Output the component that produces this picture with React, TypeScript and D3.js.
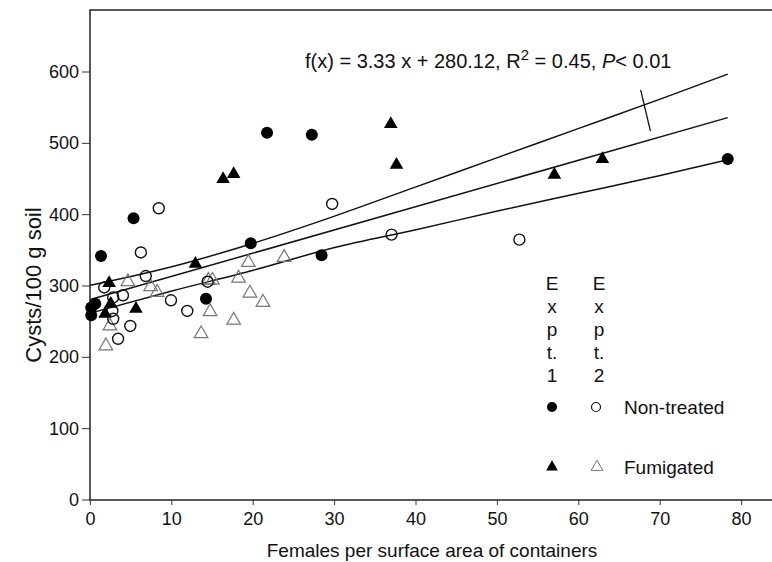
import React from 'react'
import * as d3 from 'd3'

// Expt. 1, non-treated (filled circles) [females, cysts]
const exp1NonTreated: [number, number][] = [
  [1.3, 342], [0.6, 275], [0.1, 270], [0.1, 259], [5.3, 395], [19.7, 360],
  [14.2, 282], [21.7, 515], [27.2, 512], [28.4, 343], [78.3, 478],
]
// Expt. 2, non-treated (open circles)
const exp2NonTreated: [number, number][] = [
  [6.2, 347], [1.7, 298], [6.8, 314], [9.9, 280], [11.9, 265], [14.4, 306],
  [2.8, 284], [4.0, 287], [2.7, 265], [2.8, 254], [4.9, 244], [3.4, 226],
  [8.4, 409], [29.7, 415], [37.0, 372], [52.7, 365],
]
// Expt. 1, fumigated (filled triangles)
const exp1Fumigated: [number, number][] = [
  [2.3, 304], [2.5, 275], [1.8, 261], [5.6, 268], [12.9, 331], [16.3, 450],
  [17.6, 457], [36.9, 527], [37.6, 470], [57.0, 456], [62.9, 478],
]
// Expt. 2, fumigated (open triangles)
const exp2Fumigated: [number, number][] = [
  [4.6, 306], [7.4, 299], [8.2, 291], [14.5, 308], [14.7, 264], [13.6, 233],
  [2.4, 244], [1.9, 216], [19.4, 333], [23.8, 340], [15.0, 308], [18.2, 311],
  [19.6, 290], [21.2, 277], [17.6, 252],
]

// fitted line and its band
const bandX = [0, 10, 20, 30, 40, 50, 60, 70, 78.3]
const bandUpper = [301, 327, 360, 398, 439, 480, 521, 562, 597]
const bandLower = [262, 293, 322, 354, 379, 405, 430, 455, 477]
const fitX = [0, 78.3]
const fitY = [281, 536]

const xTicks = [0, 10, 20, 30, 40, 50, 60, 70, 80]
const yTicks = [0, 100, 200, 300, 400, 500, 600]

// leader from the equation to the lines, in data units
const leader: [number, number][] = [[67.6, 575], [68.8, 517]]

const FONT = '"Liberation Sans", Arial, Helvetica, sans-serif'
const W = 772
const H = 562

export default function App() {
  const x = d3.scaleLinear().domain([0, 80]).range([90.4, 741.6])
  const y = d3.scaleLinear().domain([0, 600]).range([500, 72])

  const line = d3.line<[number, number]>()
    .x(d => x(d[0]))
    .y(d => y(d[1]))
  const curve = d3.line<[number, number]>()
    .x(d => x(d[0]))
    .y(d => y(d[1]))
    .curve(d3.curveMonotoneX)

  const tri = (size: number) => d3.symbol().type(d3.symbolTriangle).size(size)()
  const triBig = tri(80)
  const triSmall = tri(60)

  const left = 90
  const bottom = 500
  const top = 10
  const ink = '#111'

  return (
    <svg width={W} height={H} style={{ position: 'absolute', left: 0, top: 0, background: '#fff' }}
      fontFamily={FONT}>
      {/* frame */}
      <path d={`M${W},${top}H${left}V${bottom}H${W}`} fill="none" stroke="#222" strokeWidth={1.5} />

      {/* y axis */}
      {yTicks.map(t => (
        <g key={'y' + t}>
          <line x1={left - 8} x2={left} y1={y(t)} y2={y(t)} stroke="#333" strokeWidth={1} />
          <text x={left - 11} y={y(t)} textAnchor="end" dominantBaseline="central" fontSize={18} fill={ink}>{t}</text>
        </g>
      ))}
      {/* x axis */}
      {xTicks.map(t => (
        <g key={'x' + t}>
          <line x1={x(t)} x2={x(t)} y1={bottom} y2={bottom + 5} stroke="#333" strokeWidth={1} />
          <text x={x(t)} y={bottom + 19} textAnchor="middle" dominantBaseline="central" fontSize={18} fill={ink}>{t}</text>
        </g>
      ))}
      <text x={432} y={550} textAnchor="middle" dominantBaseline="central" fontSize={19} fill={ink}>
        Females per surface area of containers
      </text>
      <text transform={`translate(33,${285}) rotate(-90)`} textAnchor="middle" dominantBaseline="central" fontSize={22} fill={ink}>
        Cysts/100 g soil
      </text>

      {/* regression line and band */}
      <path d={curve(bandX.map((v, i) => [v, bandUpper[i]]) as [number, number][]) || ''} fill="none" stroke={ink} strokeWidth={1.5} />
      <path d={curve(bandX.map((v, i) => [v, bandLower[i]]) as [number, number][]) || ''} fill="none" stroke={ink} strokeWidth={1.5} />
      <path d={line(fitX.map((v, i) => [v, fitY[i]]) as [number, number][]) || ''} fill="none" stroke={ink} strokeWidth={1.5} />
      <path d={line(leader) || ''} fill="none" stroke={ink} strokeWidth={1.3} />

      {/* points */}
      {exp2Fumigated.map((d, i) => (
        <path key={'e2f' + i} d={triBig || ''} transform={`translate(${x(d[0])},${y(d[1])})`}
          fill="none" stroke="#777" strokeWidth={1.2} />
      ))}
      {exp2NonTreated.map((d, i) => (
        <circle key={'e2n' + i} cx={x(d[0])} cy={y(d[1])} r={5.5} fill="none" stroke={ink} strokeWidth={1.4} />
      ))}
      {exp1Fumigated.map((d, i) => (
        <path key={'e1f' + i} d={triBig || ''} transform={`translate(${x(d[0])},${y(d[1])})`} fill="#000" />
      ))}
      {exp1NonTreated.map((d, i) => (
        <circle key={'e1n' + i} cx={x(d[0])} cy={y(d[1])} r={6} fill="#000" />
      ))}

      {/* equation */}
      <text x={305} y={68} fontSize={20} fill={ink} xmlSpace="preserve">
        f(x) = 3.33 x + 280.12, R<tspan dy={-8} fontSize={15}>2</tspan><tspan dy={8}> = 0.45, </tspan>
        <tspan fontStyle="italic">P</tspan>{'< 0.01'}
      </text>

      {/* legend */}
      {['E', 'x', 'p', 't.', '1'].map((c, i) => (
        <text key={'l1' + i} x={552} y={283 + i * 23} textAnchor="middle" dominantBaseline="central" fontSize={19} fill={ink}>{c}</text>
      ))}
      {['E', 'x', 'p', 't.', '2'].map((c, i) => (
        <text key={'l2' + i} x={599} y={283 + i * 23} textAnchor="middle" dominantBaseline="central" fontSize={19} fill={ink}>{c}</text>
      ))}
      <circle cx={552} cy={407} r={5} fill="#000" />
      <circle cx={596} cy={407} r={4.5} fill="none" stroke={ink} strokeWidth={1.2} />
      <text x={624} y={407} dominantBaseline="central" fontSize={19} fill={ink}>Non-treated</text>
      <path d={triSmall || ''} transform={`translate(552,467)`} fill="#000" />
      <path d={triSmall || ''} transform={`translate(597,467)`} fill="none" stroke="#777" strokeWidth={1} />
      <text x={624} y={467} dominantBaseline="central" fontSize={19} fill={ink}>Fumigated</text>
    </svg>
  )
}
